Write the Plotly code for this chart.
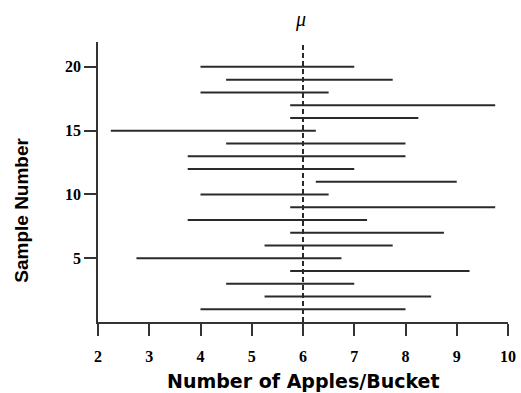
import plotly.graph_objects as go

samples = list(range(1, 21))
lower = [4.0, 5.25, 4.5, 5.75, 2.75, 5.25, 5.75, 3.75, 5.75, 4.0,
         6.25, 3.75, 3.75, 4.5, 2.25, 5.75, 5.75, 4.0, 4.5, 4.0]
upper = [8.0, 8.5, 7.0, 9.25, 6.75, 7.75, 8.75, 7.25, 9.75, 6.5,
         9.0, 7.0, 8.0, 8.0, 6.25, 8.25, 9.75, 6.5, 7.75, 7.0]
mu = 6
x_ticks = [2, 3, 4, 5, 6, 7, 8, 9, 10]
y_ticks = [5, 10, 15, 20]

xs, ys = [], []
for s, lo, hi in zip(samples, lower, upper):
    xs += [lo, hi, None]
    ys += [s, s, None]

fig = go.Figure()
fig.add_trace(go.Scatter(x=xs, y=ys, mode="lines",
                         line=dict(color="#2a2a2a", width=2),
                         hoverinfo="skip", showlegend=False))
fig.add_trace(go.Scatter(x=[mu, mu], y=[0, 22.1], mode="lines",
                         line=dict(color="#2a2a2a", width=2, dash="5px,3px"),
                         hoverinfo="skip", showlegend=False, cliponaxis=False))

tickfont = dict(family="Liberation Serif", size=16, color="black", weight="bold")
fig.update_xaxes(range=[2, 10], tickvals=x_ticks, ticktext=[str(v) for v in x_ticks],
                 ticks="outside", ticklen=12, tickwidth=1.5, tickcolor="#333",
                 showline=True, linecolor="#333", linewidth=1.5, ticklabelstandoff=7,
                 showgrid=False, zeroline=False, tickfont=tickfont, automargin=False)
fig.update_yaxes(range=[0, 21.95], tickvals=y_ticks, ticktext=[str(v) for v in y_ticks],
                 ticks="outside", ticklen=12, tickwidth=1.5, tickcolor="#333",
                 showline=True, linecolor="#333", linewidth=1.5,
                 showgrid=False, zeroline=False, tickfont=tickfont, automargin=False)

fig.add_annotation(text="μ", x=mu, xref="x", y=1.0786, yref="paper", xshift=-3,
                   showarrow=False, yanchor="middle",
                   font=dict(family="Liberation Serif", size=20, color="black", style="italic"))
fig.add_annotation(text="Number of Apples/Bucket", x=0.5005, xref="paper", y=-0.209, yref="paper",
                   showarrow=False, xanchor="center", yanchor="middle",
                   font=dict(family="DejaVu Sans", size=19, color="black", weight="bold"))
fig.add_annotation(text="Sample Number", x=-0.1885, xref="paper", y=0.40, yref="paper",
                   showarrow=False, xanchor="center", yanchor="middle", textangle=-90,
                   font=dict(family="Liberation Sans", size=19, color="black", weight="bold"))

fig.update_layout(width=521, height=393, margin=dict(l=98, r=13, t=42, b=71),
                  plot_bgcolor="white", paper_bgcolor="white")
fig.write_html("out.html", post_script="document.body.style.margin='0';",
               config={"displayModeBar": False})
